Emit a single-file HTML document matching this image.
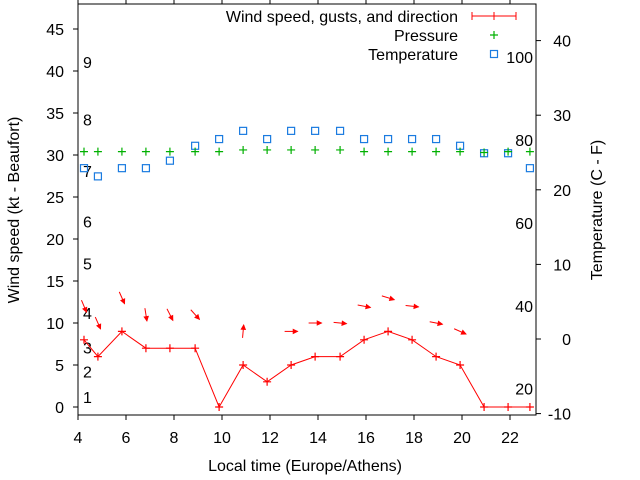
<!DOCTYPE html>
<html><head><meta charset="utf-8"><style>
body{margin:0;background:#fff;}
svg{display:block;font-family:"Liberation Sans",sans-serif;}
</style></head><body>
<svg id="chart" width="640" height="480" viewBox="0 0 640 480" xmlns="http://www.w3.org/2000/svg"></svg>
<script>
const hours=[4.25,4.83,5.83,6.83,7.83,8.88,9.88,10.88,11.88,12.88,13.88,14.92,15.92,16.92,17.92,18.92,19.92,20.92,21.92,22.83];
const windSpeed=[8,6,9,7,7,7,0,5,3,5,6,6,8,9,8,6,5,0,0,0];
const windDir=[337,336,336,351,333,318,null,185,null,270,270,276,281,287,276,281,294,null,null,null];
const pressure=[30.4,30.4,30.4,30.4,30.4,30.4,30.4,30.6,30.6,30.6,30.6,30.6,30.4,30.4,30.4,30.4,30.4,30.3,30.4,30.4];
const temperature=[22.9,21.8,22.9,22.9,23.9,25.9,26.8,27.9,26.8,27.9,27.9,27.9,26.8,26.8,26.8,26.8,25.9,24.9,24.9,22.9];
const xTicks=[4,6,8,10,12,14,16,18,20,22];
const yTicks=[0,5,10,15,20,25,30,35,40,45];
const y2Ticks=[-10,0,10,20,30,40];
const beaufortLabels=["1","2","3","4","5","6","7","8","9"];
const beaufortSpeeds=[1.2,4.2,7.1,11.2,17.1,22.1,28.1,34.2,41.1];
const fahrenheitLabels=["20","40","60","80","100"];
const fahrenheitValues=[20,40,60,80,100];

const FS=16;
const L=78,R=536,T=4,B=415;
const X=h=>L+(h-4)*24;
const Y=v=>407-v*8.4;
const Y2=c=>339-c*7.46;
const svg=document.getElementById('chart');
const NS='http://www.w3.org/2000/svg';
function mk(tag,attrs,parent){const e=document.createElementNS(NS,tag);for(const k in attrs)e.setAttribute(k,attrs[k]);(parent||svg).appendChild(e);return e;}
function txt(x,y,s,anchor,size,extra){const t=mk('text',Object.assign({x:x,y:y,'text-anchor':anchor||'middle','font-size':size||FS,fill:'#000'},extra||{}));t.textContent=s;return t;}

let f=mk('rect',{x:L,y:T,width:R-L,height:B-T,fill:'none',stroke:'#000','stroke-width':1});



xTicks.forEach(v=>{
  const x=X(v);
  let t=mk('line',{x1:x,y1:B,x2:x,y2:B+5,stroke:'#000'});
  
  mk('line',{x1:x,y1:T,x2:x,y2:T-5,stroke:'#000'});
  let l=txt(x,443,String(v));
  
});
yTicks.forEach(v=>{
  const y=Y(v);
  let t=mk('line',{x1:L-5,y1:y,x2:L,y2:y,stroke:'#000'});
  
  let l=txt(L-14,y+6,String(v),'end');
  
});
y2Ticks.forEach(v=>{
  const y=Y2(v);
  let t=mk('line',{x1:R,y1:y,x2:R+5,y2:y,stroke:'#000'});
  
  let l=txt(571,y+6,String(v),'end');
  
});
beaufortLabels.forEach((s,i)=>{
  let l=txt(83,Y(beaufortSpeeds[i])+6,s,'start');
  
});
fahrenheitLabels.forEach((s,i)=>{
  let l=txt(533,Y2((fahrenheitValues[i]-32)*5/9)+6,s,'end');
  
});

let xt=txt(305,471,'Local time (Europe/Athens)');

let yt=txt(0,0,'Wind speed (kt - Beaufort)','middle',FS,{transform:'translate(19,210) rotate(-90)'});

let y2t=txt(0,0,'Temperature (C - F)','middle',FS,{transform:'translate(602,210) rotate(-90)'});


temperature.forEach((c,i)=>{
  let r=mk('rect',{x:X(hours[i])-3.5,y:Y2(c)-3.5,width:7,height:7,fill:'none',stroke:'#1a7be0','stroke-width':1.2});
  
});
pressure.forEach((p,i)=>{
  const x=X(hours[i]),y=Y(p);
  let g=mk('path',{d:`M${x-4},${y}H${x+4}M${x},${y-4}V${y+4}`,stroke:'#00b000','stroke-width':1.2,fill:'none'});
  
});
let pl=mk('polyline',{points:hours.map((h,i)=>X(h)+','+Y(windSpeed[i])).join(' '),fill:'none',stroke:'#f00','stroke-width':1});

windSpeed.forEach((w,i)=>{
  const x=X(hours[i]),y=Y(w);
  let g=mk('path',{d:`M${x-4},${y}H${x+4}M${x},${y-4}V${y+4}`,stroke:'#f00','stroke-width':1.2,fill:'none'});
  
});
windDir.forEach((d,i)=>{
  if(d===null)return;
  const cx=X(hours[i]),cy=Y(windSpeed[i]+4);
  const to=(d+180)*Math.PI/180;
  const dx=Math.sin(to),dy=-Math.cos(to),len=13;
  const x1=cx-dx*len/2,y1=cy-dy*len/2,x2=cx+dx*len/2,y2=cy+dy*len/2;
  const a=Math.atan2(dy,dx),hl=5;
  const p1=[x2-hl*Math.cos(a-0.45),y2-hl*Math.sin(a-0.45)],p2=[x2-hl*Math.cos(a+0.45),y2-hl*Math.sin(a+0.45)];
  const g=mk('g',{});
  
  mk('line',{x1:x1,y1:y1,x2:x2,y2:y2,stroke:'#f00','stroke-width':1},g);
  mk('polygon',{points:`${x2},${y2} ${p1[0]},${p1[1]} ${p2[0]},${p2[1]}`,fill:'#f00',stroke:'#f00','stroke-width':0.8},g);
});

const lg=mk('g',{});

let t1=txt(458,22,'Wind speed, gusts, and direction','end');
mk('path',{d:'M472,16H516M472,12V20M516,12V20M494,12V20',stroke:'#f00','stroke-width':1,fill:'none'},lg);
let t2=txt(458,41,'Pressure','end');
mk('path',{d:'M490,35H498M494,31V39',stroke:'#00b000','stroke-width':1.2,fill:'none'},lg);
let t3=txt(458,60,'Temperature','end');
mk('rect',{x:490.5,y:50.5,width:7,height:7,fill:'none',stroke:'#1a7be0','stroke-width':1.2},lg);
</script>
</body></html>
